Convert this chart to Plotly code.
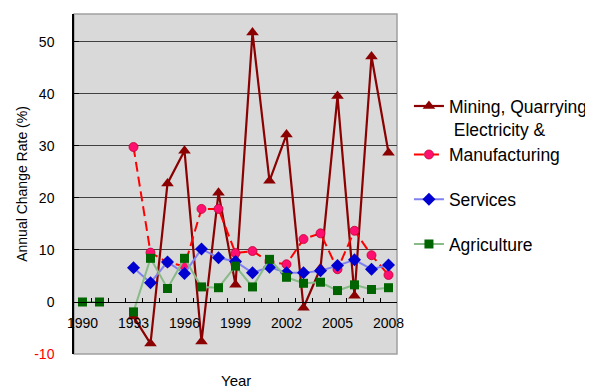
import plotly.graph_objects as go

years = list(range(1990, 2009))

mining = [None, None, None, -2.8, -8.0, 22.8, 29.1, -7.6, 21.0, 3.3, 51.8, 23.3, 32.2, -1.1, 6.5, 39.6, 1.2, 47.2, 28.7]
manufacturing = [None, None, None, 29.8, 9.5, 7.6, 6.9, 17.9, 17.9, 9.4, 9.8, 7.7, 7.25, 12.1, 13.2, 6.3, 13.7, 9.0, 5.2]
services = [None, None, None, 6.6, 3.7, 7.7, 5.5, 10.2, 8.5, 7.8, 5.6, 6.7, 5.6, 5.6, 6.0, 7.0, 8.1, 6.3, 7.1]
agriculture = [0.0, 0.0, None, -1.9, 8.4, 2.6, 8.4, 2.9, 2.75, 6.9, 2.9, 8.2, 4.75, 3.6, 3.8, 2.2, 3.3, 2.4, 2.75]

x_tick_years = [1990, 1993, 1996, 1999, 2002, 2005, 2008]
y_tick_vals = [-10, 0, 10, 20, 30, 40, 50]

FONT = "Arial, 'Liberation Sans', sans-serif"
Y_MIN, Y_MAX = -10, 55.38
zero_pos = (0 - Y_MIN) / (Y_MAX - Y_MIN)

fig = go.Figure()

fig.add_trace(go.Scatter(
    x=years, y=mining, name="Mining, Quarrying<br>\u00a0Electricity &amp;",
    mode="lines+markers", legendgroup="a",
    line=dict(color="#8b0000", width=2.2),
    marker=dict(symbol="triangle-up", size=11, color="#8b0000"),
    connectgaps=False))
fig.add_trace(go.Scatter(
    x=years, y=manufacturing, name="Manufacturing",
    mode="lines+markers", legendgroup="a",
    line=dict(color="#ff0000", width=2, dash="10px,5px"),
    marker=dict(symbol="circle", size=9, color="#ff1070", line=dict(color="#c00030", width=0.8)),
    connectgaps=False))
fig.add_trace(go.Scatter(
    x=years, y=services, name="Services",
    mode="lines+markers", legendgroup="b",
    line=dict(color="#8080f0", width=2),
    marker=dict(symbol="diamond", size=10, color="#0000d0"),
    connectgaps=False))
fig.add_trace(go.Scatter(
    x=years, y=agriculture, name="Agriculture",
    mode="lines+markers", legendgroup="c",
    line=dict(color="#88bb88", width=2),
    marker=dict(symbol="square", size=9, color="#006400"),
    connectgaps=False))

# dummy trace on xaxis2 for the between-category tick marks
fig.add_trace(go.Scatter(x=[1990], y=[None], xaxis="x2", showlegend=False, hoverinfo="skip"))

ticktext = [("<span style='color:#ff0000'>%d</span>" % v) if v < 0 else str(v) for v in y_tick_vals]

fig.update_layout(
    width=601, height=396,
    margin=dict(l=66, r=212, t=6, b=50, autoexpand=False),
    paper_bgcolor="white",
    plot_bgcolor="#d9d9d9",
    font=dict(family=FONT, size=14, color="black"),
    showlegend=True,
    legend=dict(
        x=1.037, y=0.782, xanchor="left", yanchor="top",
        font=dict(family=FONT, size=17.5, color="black"),
        traceorder="grouped", tracegroupgap=19, valign="top",
        bgcolor="rgba(0,0,0,0)", itemwidth=30,
    ),
    xaxis=dict(
        range=[1989.5, 2008.5], tickvals=x_tick_years, ticks="",
        showgrid=False, zeroline=False, showline=True, linecolor="black", linewidth=1,
        anchor="free", position=zero_pos, ticklabelstandoff=8, automargin=False,
        tickfont=dict(size=14),
    ),
    xaxis2=dict(
        range=[1989.5, 2008.5], overlaying="x", anchor="free", position=zero_pos,
        tickvals=[y + 0.5 for y in years[:-1]], ticks="inside", ticklen=4,
        tickcolor="black", showticklabels=False, showgrid=False, zeroline=False, showline=False,
        automargin=False,
    ),
    yaxis=dict(
        range=[Y_MIN, Y_MAX], tickvals=y_tick_vals, ticktext=ticktext,
        ticks="inside", ticklen=5, tickcolor="black",
        showgrid=True, gridcolor="#404040", gridwidth=1.3,
        zeroline=False, showline=True, linecolor="black", linewidth=1.5,
        ticklabelstandoff=15, automargin=False,
        title=dict(text="Annual Change Rate (%)", font=dict(size=14), standoff=3),
    ),
    shapes=[dict(type="rect", xref="paper", yref="paper", x0=0, x1=1, y0=0, y1=1,
                 line=dict(color="#a0a0a0", width=1.5), layer="below")],
    annotations=[dict(text="Year", xref="paper", yref="paper", x=0.5, y=-0.079,
                      xanchor="center", yanchor="middle", showarrow=False,
                      font=dict(family=FONT, size=15))],
)

fig.write_html("out.html")
